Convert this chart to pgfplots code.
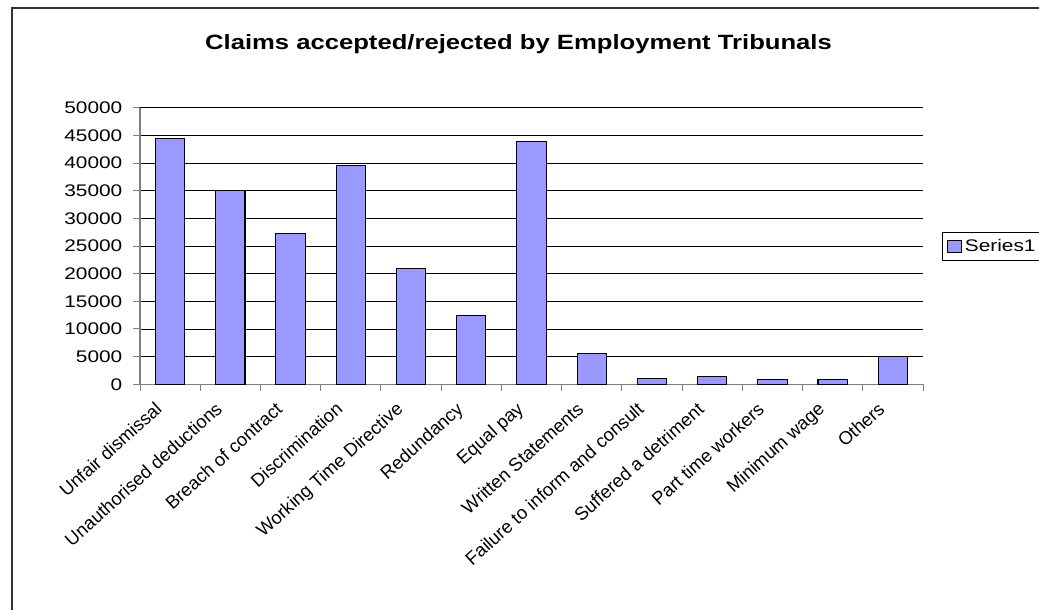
\documentclass[border=0pt]{standalone}
\usepackage{pgfplots}
\pgfplotsset{compat=1.18}
\usepackage{fontspec}
\setmainfont{Liberation Sans}
\newfontfamily\wide{Liberation Sans}[FakeStretch=1.24]
\definecolor{barfill}{HTML}{9999FF}
\definecolor{axgray}{HTML}{808080}
\begin{document}
\begin{tikzpicture}[x=1pt,y=1pt]
\clip (0,0) rectangle (779.25,457.5);
\draw[line width=1.1pt, black!80] (9,-5) -- (9,451.5) -- (790,451.5);
\node[anchor=base, font=\wide\bfseries\fontsize{15.5}{18}\selectfont, inner sep=0pt] at (388.9,420) {Claims accepted/rejected by Employment Tribunals};
\begin{axis}[
  at={(105pt,169.275pt)}, anchor=south west,
  scale only axis, width=587.25pt, height=207.45pt,
  xmin=-0.5, xmax=12.5, ymin=0, ymax=50000,
  ytick={0,5000,...,50000},
  scaled y ticks=false,
  /pgf/number format/assume math mode=true,
  yticklabel style={font=\wide\fontsize{12.6}{15}\selectfont, /pgf/number format/fixed, /pgf/number format/1000 sep={}, xshift=-4.5pt},
  xtick={0,...,12},
  xticklabels={Unfair dismissal,Unauthorised deductions,Breach of contract,Discrimination,Working Time Directive,Redundancy,Equal pay,Written Statements,Failure to inform and consult,Suffered a detriment,Part time workers,Minimum wage,Others},
  major x tick style={draw=none},
  minor xtick={-0.5,0.5,...,12.5},
  tick align=outside, major tick length=5.25pt, minor tick length=5.25pt,
  tick style={axgray, line width=0.75pt},
  axis x line*=bottom, axis y line*=left,
  axis line style={axgray, line width=0.9pt, -},
  ymajorgrids, major grid style={black, line width=0.6pt},
  xticklabel style={xshift=-12pt, yshift=-7pt, font=\fontsize{13.8}{16}\selectfont, rotate=42, anchor=north east, inner sep=0pt},
  legend style={at={(1.0239,0.498)}, anchor=west, draw=black, line width=0.75pt, font=\wide\fontsize{12.6}{15}\selectfont, inner xsep=2pt, inner ysep=3pt},
  ybar, bar width=0.487,
]
\addplot[fill=barfill, draw=black, line width=0.8pt, legend image code/.code={\path[draw=none, fill=none] (0pt,0pt) rectangle (13pt,0.1pt); \draw[fill=barfill, draw=black, line width=0.6pt] (2pt,-4.5pt) rectangle (12.5pt,4.5pt);}] coordinates {
(0,44500) (1,35000) (2,27300) (3,39600) (4,21000) (5,12500) (6,43900) (7,5500) (8,1100) (9,1400) (10,800) (11,800) (12,5100)};
\legend{Series1}
\end{axis}
\end{tikzpicture}
\end{document}
